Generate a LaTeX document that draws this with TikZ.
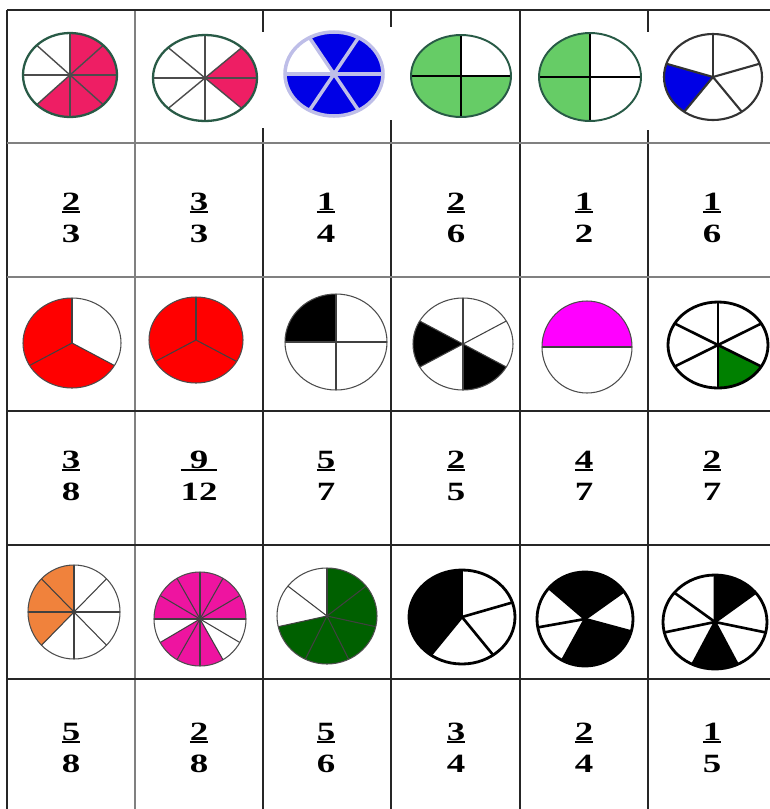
\documentclass[tikz,border=0pt]{standalone}
\usepackage{fontspec}
\setmainfont{Liberation Serif}
\definecolor{pinkA}{RGB}{238,30,100}
\definecolor{pinkB}{RGB}{238,20,160}
\definecolor{blueA}{RGB}{0,0,230}
\definecolor{lightgreen}{RGB}{102,204,102}
\definecolor{darkgreen}{RGB}{0,96,0}
\definecolor{greenB}{RGB}{0,128,0}
\definecolor{orangeA}{RGB}{240,130,60}
\definecolor{magentaA}{RGB}{255,0,255}
\definecolor{rimgreen}{RGB}{40,90,70}
\definecolor{lavender}{RGB}{190,190,232}
% fraction: number over bar over number
\newcommand{\fr}[2]{\begin{tabular}{@{}c@{}}#1\\[-5pt]\hline\rule{0pt}{17pt}#2\end{tabular}}
% \pie[look]{centre}{rx}{ry}{first angle}{parts}{shaded parts}{colour}
\newcommand{\pie}[8][]{%
  \begin{scope}[shift={(#2)},yscale=-1,#1]
    \foreach \k in {#7}
      \fill[#8] (0,0) -- ({#3*cos(#5+(\k-1)*360/#6)},{#4*sin(#5+(\k-1)*360/#6)})
        arc[start angle={#5+(\k-1)*360/#6}, delta angle={360/#6}, x radius=#3, y radius=#4] -- cycle;
    \foreach \k in {1,...,#6}
      \draw[spoke] (0,0) -- ({#3*cos(#5+\k*360/#6)},{#4*sin(#5+\k*360/#6)});
    \draw[rim] (0,0) ellipse[x radius=#3, y radius=#4];
  \end{scope}}
\tikzset{
  spoke/.style={}, rim/.style={},
  greenrim/.style={spoke/.style={draw=black!70,line width=.8pt}, rim/.style={draw=rimgreen,line width=1.3pt}},
  tealrim/.style={spoke/.style={draw=black,line width=1.5pt}, rim/.style={draw=rimgreen,line width=1.1pt}},
  lavrim/.style={spoke/.style={draw=lavender,line width=2pt}, rim/.style={draw=lavender,line width=2pt}},
  thinrim/.style={spoke/.style={draw=black!75,line width=.6pt}, rim/.style={draw=black!70,line width=.6pt}},
  greyrim/.style={spoke/.style={draw=black!80,line width=1.2pt}, rim/.style={draw=black!80,line width=1.2pt}},
  boldrim/.style={spoke/.style={draw=black,line width=1.5pt}, rim/.style={draw=black,line width=1.6pt}},
  gridline/.style={draw=black!85,line width=.9pt},
  greyline/.style={draw=black!50,line width=1pt},
  frac/.style={font=\bfseries\fontsize{15}{17}\selectfont, inner sep=0pt, xscale=1.4, transform shape}
}
\setlength{\arrayrulewidth}{1.1pt}
\begin{document}
\begin{tikzpicture}[x=0.02cm, y=-0.02cm]
\useasboundingbox (0,0) rectangle (770,809);
% grid
\foreach \x in {7,520} \draw[gridline] (\x,10) -- (\x,809);
\draw[greyline] (135,10) -- (135,809);
\foreach \x/\a/\b in {263/32/128, 391/27/120, 648/32/130} {
  \draw[gridline] (\x,10) -- (\x,\a);
  \draw[gridline] (\x,\b) -- (\x,809);
}
\foreach \y in {10,411,545,679} \draw[gridline] (7,\y) -- (770,\y);
\foreach \y in {143,277} \draw[greyline] (7,\y) -- (770,\y);
% first row of circles
\pie[greenrim]{70,75}{47}{42}{90}{8}{4,5,6,7,8}{pinkA}
\pie[greenrim]{205,78}{52}{43}{90}{8}{6,7}{pinkA}
\pie[lavrim]{334,74}{49}{42}{0}{6}{1,2,4,5,6}{blueA}
\pie[tealrim]{461,76}{50}{41}{0}{4}{2,3,4}{lightgreen}
\pie[tealrim]{590,77}{51}{44}{0}{4}{2,3}{lightgreen}
\pie[greyrim]{713,77}{49}{43}{18}{5}{3}{blueA}
% second row of circles
\pie[thinrim]{72,343}{49}{45}{90}{3}{1,2}{red}
\pie[thinrim]{196,340}{47}{43}{90}{3}{1,2,3}{red}
\pie[thinrim]{336,342}{51}{48}{0}{4}{2}{black}
\pie[thinrim]{463,344}{50}{46}{30}{6}{3,5}{black}
\pie[thinrim]{587,347}{45}{46}{0}{2}{1}{magentaA}
\pie[boldrim]{718,345}{50}{43}{30}{6}{5}{greenB}
% third row of circles
\pie[thinrim]{74,612}{46}{47}{0}{8}{3,4,5}{orangeA}
\pie[thinrim]{200,619}{46}{47}{0}{12}{1,2,3,4,5,6,8,9,10}{pinkB}
\pie[thinrim]{327,616}{50}{48}{90}{7}{3,4,5,6,7}{darkgreen}
\pie[boldrim]{462,617}{53}{47}{18}{5}{2,3}{black}
\pie[boldrim]{585,619}{48}{47}{36}{7}{1,2,5,6}{black}
\pie[boldrim]{715,622}{52}{47}{38.57}{7}{1,5}{black}
% fractions
\foreach \x/\n/\d [count=\i] in {71/2/3, 199/3/3, 326/1/4, 456/2/6, 584/1/2, 712/1/6}
  \node[frac] (a\i) at (\x,221) {\fr{\n}{\d}};
\foreach \x/\n/\d [count=\i] in {71/3/8, 199/9/12, 326/5/7, 456/2/5, 584/4/7, 712/2/7}
  \node[frac] (b\i) at (\x,479) {\fr{\n}{\d}};
\foreach \x/\n/\d [count=\i] in {71/5/8, 199/2/8, 326/5/6, 456/3/4, 584/2/4, 712/1/5}
  \node[frac] (c\i) at (\x,751) {\fr{\n}{\d}};
\end{tikzpicture}
\end{document}
